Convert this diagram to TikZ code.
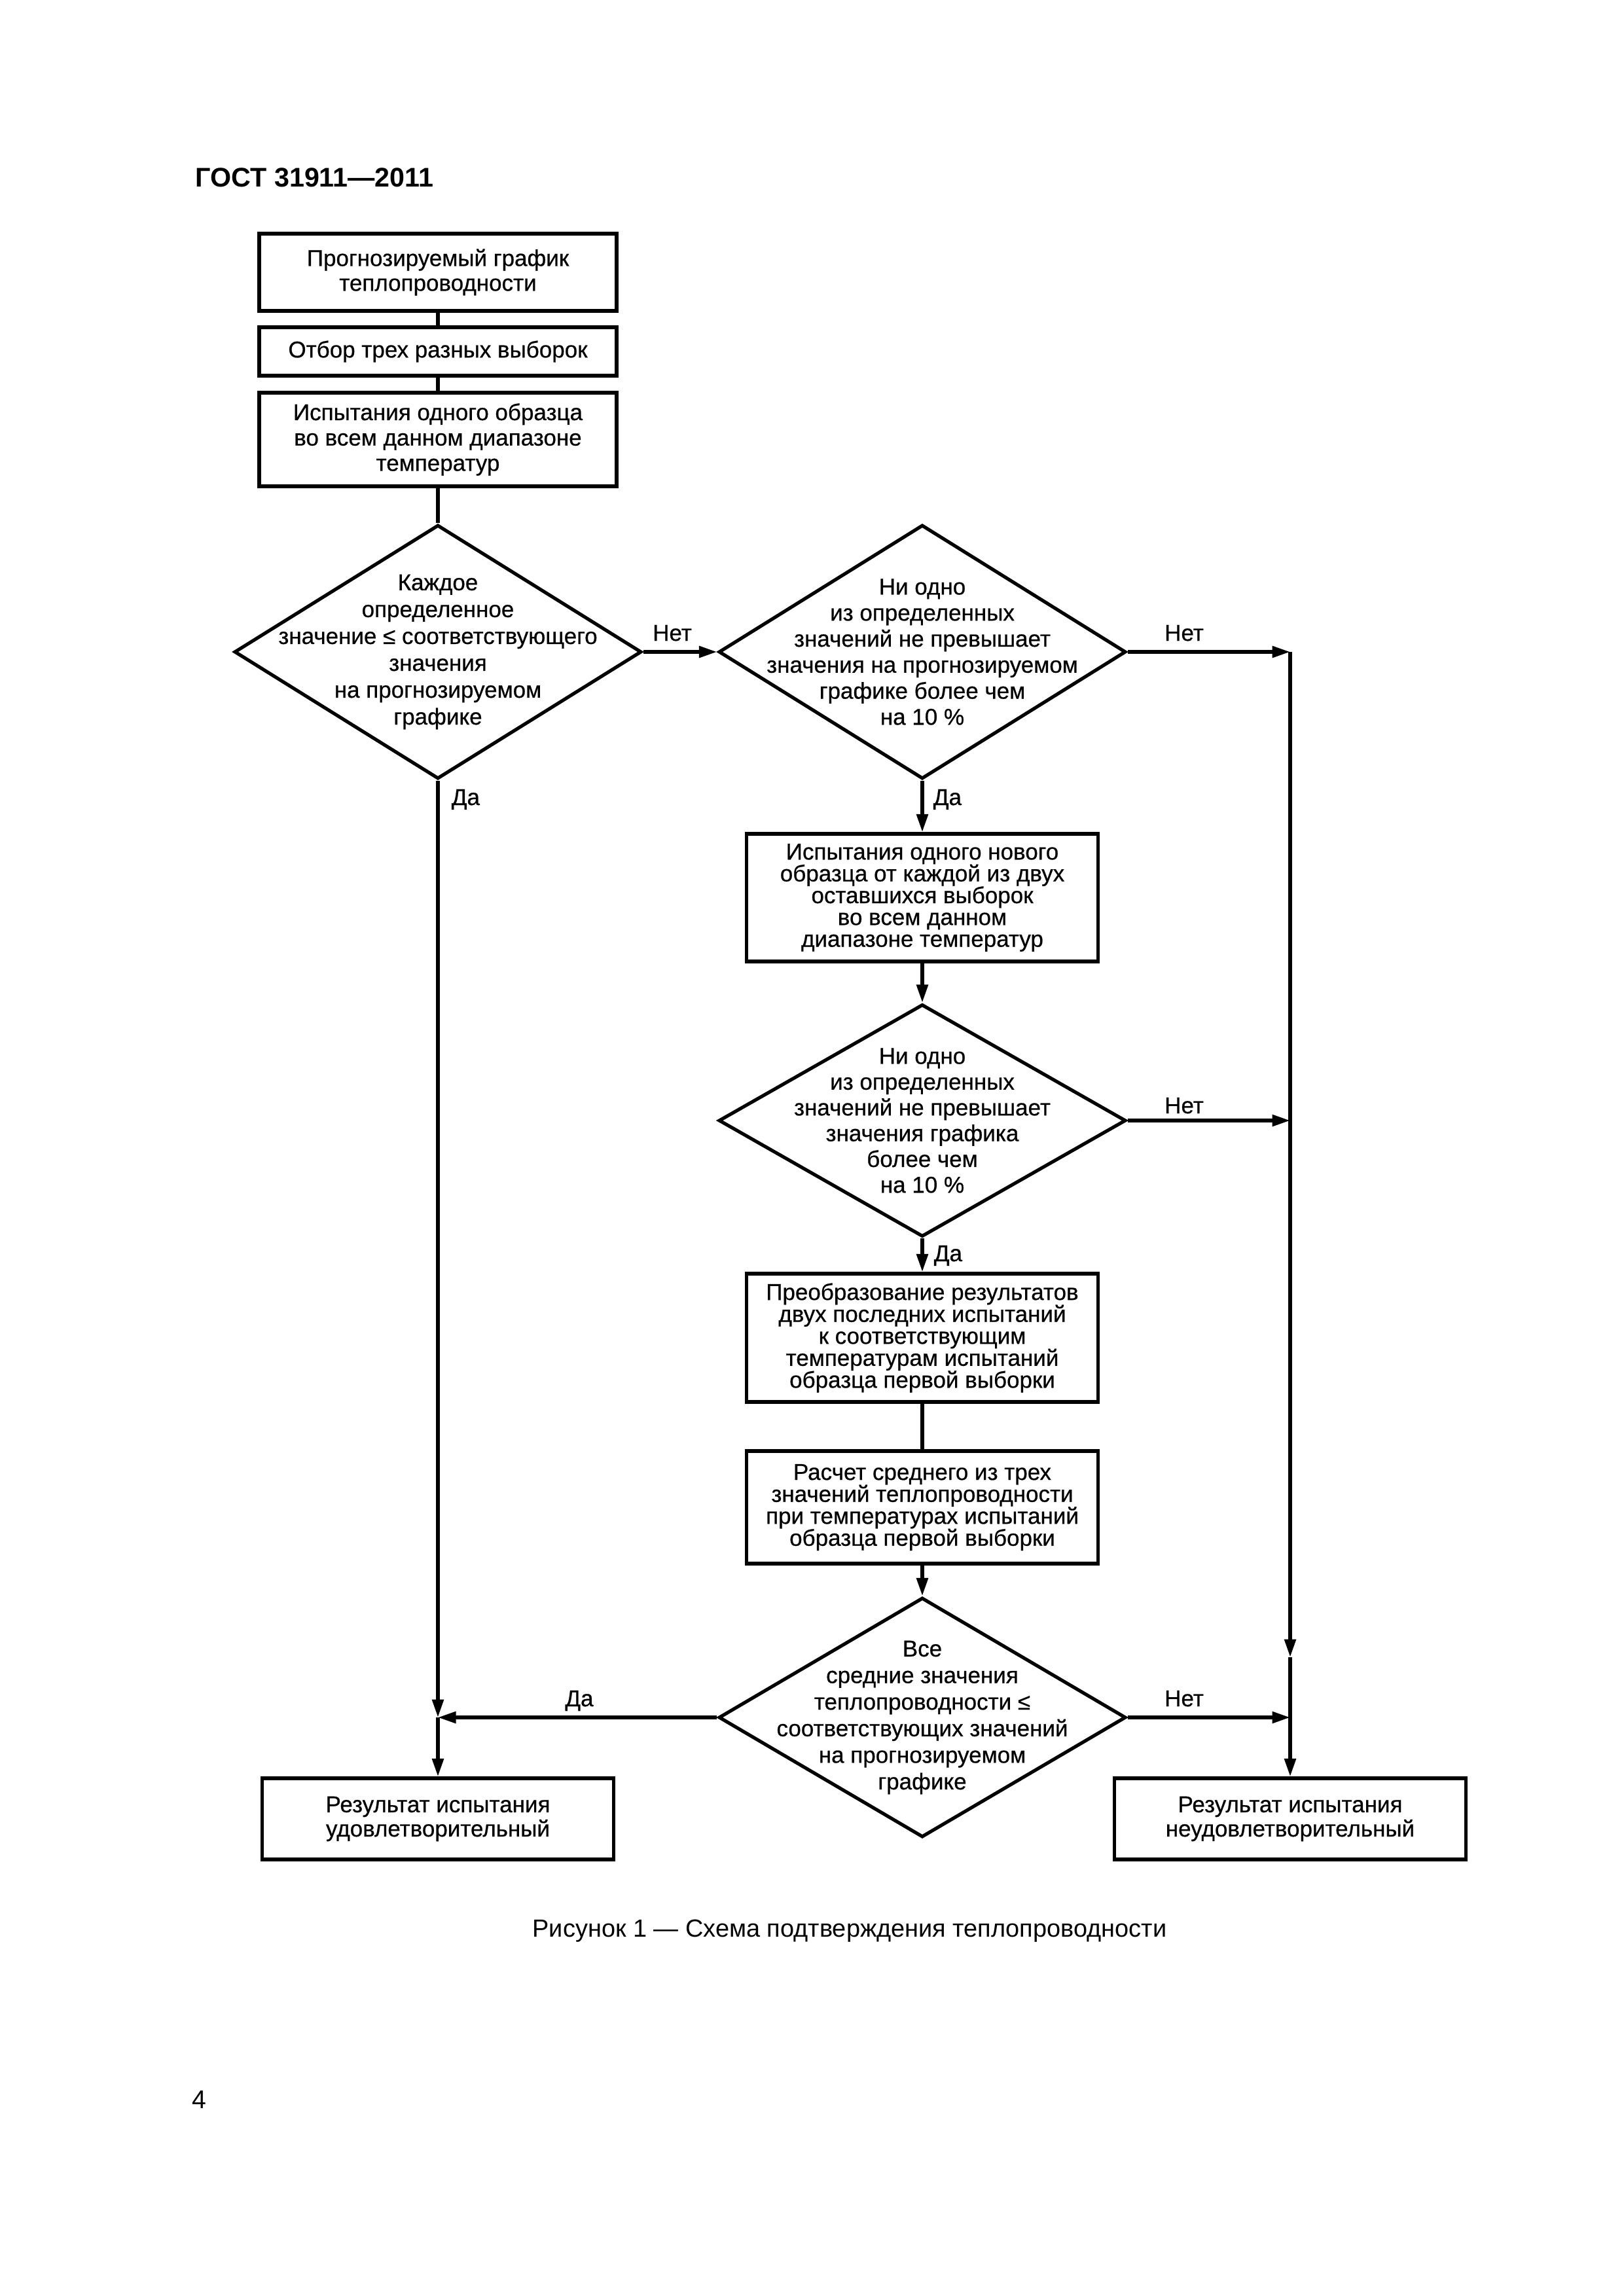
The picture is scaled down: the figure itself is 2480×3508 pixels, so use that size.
\documentclass[tikz,border=0pt]{standalone}
\usepackage{fontspec}
\setmainfont{Liberation Sans}
\newfontfamily\diafont[FakeBold=0.6]{Liberation Sans}
\usetikzlibrary{shapes.geometric,arrows.meta}
\newdimen\pxu \pxu=0.24003pt
\begin{document}
\begin{tikzpicture}[x=0.24003pt,y=-0.24003pt,
  every node/.style={font=\diafont\fontsize{8.4}{9.5}\selectfont},
  box/.style={draw, line width=1.25pt, rectangle, inner sep=0pt, align=center},
  boxL/.style={box, minimum width=546*\pxu},
  boxR/.style={box, minimum width=537*\pxu},
  dia/.style={draw, line width=1.25pt, diamond, inner sep=0pt, minimum width=622*\pxu},
  txt/.style={align=center, inner sep=0pt},
  conn/.style={line width=1.3pt},
  arr/.style={line width=1.3pt, -{Triangle[length=6.6pt,width=4.1pt]}},
  lbl/.style={inner sep=0pt, anchor=base},
  lblw/.style={inner sep=0pt, anchor=base west},
]
\useasboundingbox (0,0) rectangle (2480,3508);

% header
\node[lblw, font=\rmfamily\fontsize{9.9}{11}\selectfont\bfseries] (hdr) at (298,285) {ГОСТ 31911—2011};

% left column boxes
\node[boxL, minimum height=118*\pxu, font=\diafont\fontsize{8.4}{9.1}\selectfont] (b1) at (669,416)
  {Прогнозируемый график\\теплопроводности};
\node[boxL, minimum height=74*\pxu] (b2) at (669,537) {Отбор трех разных выборок};
\node[boxL, minimum height=143*\pxu, font=\diafont\fontsize{8.4}{9.3}\selectfont] (b3) at (669,671.5)
  {Испытания одного образца\\во всем данном диапазоне\\температур};

% diamond 1
\node[dia, minimum height=388*\pxu] (d1) at (669,996) {};
\node[txt, font=\diafont\fontsize{8.4}{9.85}\selectfont] (t1) at (d1)
  {Каждое\\определенное\\значение ≤ соответствующего\\значения\\на прогнозируемом\\графике};

% diamond 2
\node[dia, minimum height=388*\pxu] (d2) at (1409,996) {};
\node[txt, font=\diafont\fontsize{8.4}{9.55}\selectfont] (t2) at (d2)
  {Ни одно\\из определенных\\значений не превышает\\значения на прогнозируемом\\графике более чем\\на 10 \%};

% box 4
\node[boxR, minimum height=195*\pxu, font=\diafont\fontsize{8.4}{8.0}\selectfont] (b4) at (1409,1371.5)
  {Испытания одного нового\\образца от каждой из двух\\оставшихся выборок\\во всем данном\\диапазоне температур};

% diamond 3
\node[dia, minimum height=355*\pxu] (d3) at (1409,1712) {};
\node[txt, font=\diafont\fontsize{8.4}{9.45}\selectfont] (t3) at (d3)
  {Ни одно\\из определенных\\значений не превышает\\значения графика\\более чем\\на 10 \%};

% box 5, 6
\node[boxR, minimum height=196*\pxu, font=\diafont\fontsize{8.4}{8.05}\selectfont] (b5) at (1409,2044)
  {Преобразование результатов\\двух последних испытаний\\к соответствующим\\температурам испытаний\\образца первой выборки};
\node[boxR, minimum height=172*\pxu, font=\diafont\fontsize{8.4}{8.05}\selectfont] (b6) at (1409,2303)
  {Расчет среднего из трех\\значений теплопроводности\\при температурах испытаний\\образца первой выборки};

% diamond 4
\node[dia, minimum height=366*\pxu] (d4) at (1409,2624) {};
\node[txt, font=\diafont\fontsize{8.4}{9.75}\selectfont] (t4) at (d4)
  {Все\\средние значения\\теплопроводности ≤\\соответствующих значений\\на прогнозируемом\\графике};

% result boxes
\node[boxR, minimum height=124*\pxu, font=\diafont\fontsize{8.4}{8.9}\selectfont] (b7) at (669,2779)
  {Результат испытания\\удовлетворительный};
\node[boxR, minimum height=124*\pxu, font=\diafont\fontsize{8.4}{8.9}\selectfont] (b8) at (1971,2779)
  {Результат испытания\\неудовлетворительный};

% junction coordinates
\coordinate (jL) at (669,2624);
\coordinate (r1) at (1971,996);
\coordinate (r2) at (1971,1712);
\coordinate (rm) at (1971,2532);
\coordinate (r3) at (1971,2624);

% plain connectors
\draw[conn] (b1.south) -- (b2.north);
\draw[conn] (b2.south) -- (b3.north);
\draw[conn] (b3.south) -- (d1.north);
\draw[conn] (b5.south) -- (b6.north);

% arrows
\draw[arr] (d1.east) -- (d2.west);
\draw[arr] (d2.east) -- (r1);
\draw[arr] (d2.south) -- (b4.north);
\draw[arr] (b4.south) -- (d3.north);
\draw[arr] (d3.east) -- (r2);
\draw[arr] (d3.south) -- (b5.north);
\draw[arr] (b6.south) -- (d4.north);
\draw[arr] (d4.east) -- (r3);
\draw[arr] (d4.west) -- (jL);
\draw[arr] (d1.south) -- (jL);
\draw[arr] (jL) -- (b7.north);
\draw[arr] (r1) -- (rm);
\draw[arr] (rm) -- (b8.north);

% labels
\node[lbl] (n1) at (1027,979) {Нет};
\node[lbl] (n2) at (1809,979) {Нет};
\node[lblw] (y1) at (689,1230) {Да};
\node[lblw] (y2) at (1425,1230) {Да};
\node[lbl] (n3) at (1809,1701) {Нет};
\node[lblw] (y3) at (1426,1927) {Да};
\node[lbl] (y4) at (885,2607) {Да};
\node[lbl] (n4) at (1809,2607) {Нет};

% caption and page number
\node[lbl, font=\rmfamily\fontsize{9.1}{11}\selectfont] (cap) at (1298,2959)
  {Рисунок 1 — Схема подтверждения теплопроводности};
\node[lblw, font=\rmfamily\fontsize{9.4}{11}\selectfont] (pg) at (293,3221) {4};
\end{tikzpicture}
\end{document}
